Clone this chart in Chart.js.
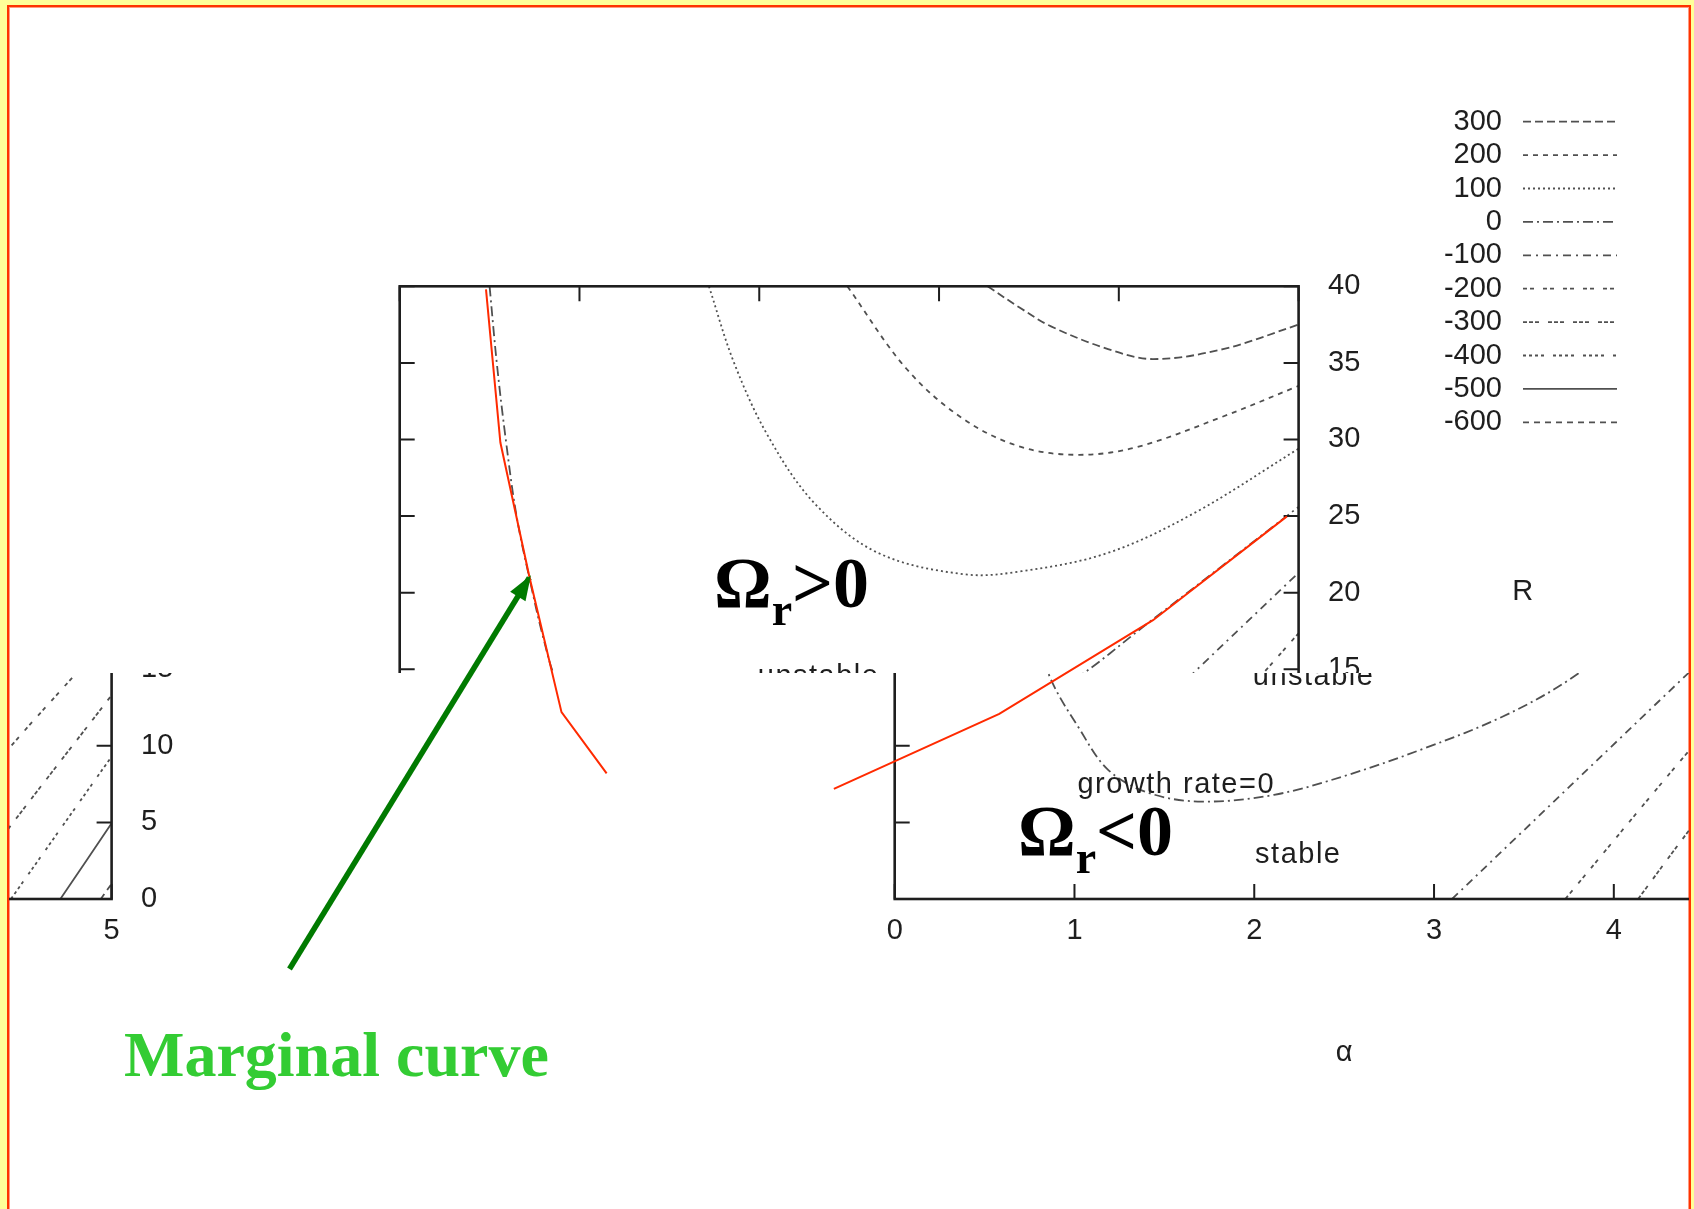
<!DOCTYPE html>
<html>
<head>
<meta charset="utf-8">
<script src="https://cdn.jsdelivr.net/npm/chart.js@4.4.0/dist/chart.umd.min.js"></script>
<style>
  html, body { margin: 0; padding: 0; }
  body { width: 1694px; height: 1209px; background: #ffff99; position: relative; overflow: hidden; }
  #slide { position: absolute; left: 7px; top: 5px; width: 1680px; height: 1230px; background: #fff;
           border: 2px solid #ff3300; box-shadow: inset 1px 1px 0 #ff9a80, inset -1px 0 0 #ff9a80; }
  .cut { position: absolute; overflow: hidden; }
  .cut canvas, #over { position: absolute; }
</style>
</head>
<body>
<div id="slide"></div>
<div class="cut" style="left:9px; top:7px; width:1680px; height:666px;">
  <canvas id="plotTop" width="1694" height="1209" style="left:-9px; top:-7px;"></canvas>
</div>
<div class="cut" style="left:9px; top:673px; width:1680px; height:536px;">
  <canvas id="plotLow" width="1694" height="1209" style="left:486px; top:-673px;"></canvas>
  <canvas id="plotWrap" width="1694" height="1209" style="left:-1196px; top:-673px;"></canvas>
</div>
<canvas id="over" width="1694" height="1209" style="left:0; top:0;"></canvas>

<script>
// axis ticks
const alphaTicks = [0, 1, 2, 3, 4, 5];
const rTicks = [0, 5, 10, 15, 20, 25, 30, 35, 40];

// contour levels of the growth rate
const levels = ['300', '200', '100', '0', '-100', '-200', '-300', '-400', '-500', '-600'];

// contour lines: alpha values and R values
const c300a = [3.27, 3.45, 3.62, 3.94, 4.19, 4.58, 5.0];
const c300r = [40, 38.6, 37.4, 35.9, 35.25, 35.9, 37.5];
const c200a = [2.49, 2.82, 3.14, 3.46, 3.78, 4.1, 4.58, 5.0];
const c200r = [40, 34.6, 31.3, 29.5, 29.0, 29.5, 31.5, 33.5];
const c100a = [1.72, 1.86, 2.05, 2.31, 2.66, 3.14, 3.46, 3.94, 4.42, 5.0];
const c100r = [40, 35, 30.2, 25.8, 22.6, 21.2, 21.4, 22.6, 25.2, 29.4];
const c0a = [0.5, 0.54, 0.59, 0.65, 0.73, 0.8, 0.87, 1.02, 1.19, 1.42, 1.71, 2.11, 2.52, 2.95, 3.38, 3.75, 4.15, 4.57, 5.0];
const c0r = [40, 35, 30, 25, 20.5, 17, 14.3, 11.25, 8.4, 6.9, 6.36, 6.8, 8.1, 9.85, 11.9, 14.3, 17.9, 21.7, 25.6];
const m100a = [3.1, 4.41, 5.0];
const m100r = [0, 14.7, 21.3];
const m200a = [3.73, 4.42, 4.8, 5.0];
const m200r = [0, 9.7, 14.7, 17.35];
const m300a = [4.135, 4.42, 5.0];
const m300r = [0, 4.5, 13.3];
const m400a = [4.44, 5.0];
const m400r = [0, 9.3];
const m500a = [4.715, 5.0];
const m500r = [0, 4.94];
const m600a = [4.94, 5.0];
const m600r = [0, 1.0];

const contourA = [c300a, c200a, c100a, c0a, m100a, m200a, m300a, m400a, m500a, m600a];
const contourR = [c300r, c200r, c100r, c0r, m100r, m200r, m300r, m400r, m500r, m600r];

// region labels inside the plot
const noteText = ['unstable', 'growth rate=0', 'stable'];
const noteA = [2.33, 1.566, 2.245];
const noteR = [13.98, 6.9, 2.37];

// hand-drawn marginal curve and pointer
const redLeftA = [0.48, 0.56, 0.722, 0.9, 1.151];
const redLeftR = [39.8, 29.8, 21.0, 12.2, 8.2];
const redRightA = [2.415, 3.335, 4.19, 4.935];
const redRightR = [7.19, 12.08, 18.2, 24.98];
const arrowA = [-0.613, 0.721];
const arrowR = [-4.57, 20.97];

const dashes = [[8, 4], [5, 5], [2, 3], [10, 4, 2, 4], [8, 5, 2, 5], [4, 3, 4, 9],
                [4, 2, 4, 2, 4, 9], [3, 3, 3, 3, 3, 3, 3, 9], [], [6, 5]];
const INK = '#1e1e1e';
const GREY = '#505050';
const FONT = '29px "Liberation Sans", Arial, sans-serif';

const W = 1694, H = 1209;
const area = { left: 399.7, top: 286.3, right: 1298.6, bottom: 899 };
const Y_AXIS_W = 120, X_AXIS_H = 80;

function pts(a, r) { return a.map((v, i) => ({ x: v, y: r[i] })); }

const gnuplotFrame = {
  id: 'gnuplotFrame',
  afterDatasetsDraw(chart) {
    const { ctx, chartArea: a, scales: { x, y } } = chart;
    ctx.save();
    ctx.strokeStyle = INK;
    ctx.lineWidth = 2;
    ctx.beginPath();
    alphaTicks.forEach(v => {
      const px = x.getPixelForValue(v);
      ctx.moveTo(px, a.bottom); ctx.lineTo(px, a.bottom - 15);
      ctx.moveTo(px, a.top); ctx.lineTo(px, a.top + 15);
    });
    rTicks.forEach(v => {
      const py = y.getPixelForValue(v);
      ctx.moveTo(a.left, py); ctx.lineTo(a.left + 15, py);
      ctx.moveTo(a.right, py); ctx.lineTo(a.right - 15, py);
    });
    ctx.stroke();
    ctx.lineWidth = 2.6;
    ctx.strokeRect(a.left, a.top, a.right - a.left, a.bottom - a.top);

    ctx.fillStyle = INK;
    ctx.font = FONT;
    ctx.textAlign = 'center';
    ctx.textBaseline = 'middle';
    ctx.fillText('α', (a.left + a.right) / 2, a.bottom + 154);
    ctx.fillText('R', a.right + 224, 592);

    // region notes
    ctx.textBaseline = 'alphabetic';
    ctx.letterSpacing = '1.5px';
    noteText.forEach((t, i) => {
      ctx.fillText(t, x.getPixelForValue(noteA[i]), y.getPixelForValue(noteR[i]));
    });
    ctx.letterSpacing = '0px';

    // key, gnuplot style: label then line sample
    ctx.textAlign = 'right';
    ctx.textBaseline = 'middle';
    levels.forEach((lv, i) => {
      const ry = 121.7 + i * 33.4;
      ctx.fillStyle = INK;
      ctx.fillText(lv, 1502, ry);
      ctx.strokeStyle = GREY;
      ctx.lineWidth = 1.8;
      ctx.setLineDash(dashes[i]);
      ctx.beginPath();
      ctx.moveTo(1523, ry); ctx.lineTo(1617, ry);
      ctx.stroke();
    });
    ctx.restore();
  }
};

function makePlot(id) {
  return new Chart(document.getElementById(id), {
    type: 'scatter',
    data: {
      datasets: levels.map((lv, i) => ({
        label: lv,
        data: pts(contourA[i], contourR[i]),
        showLine: true,
        borderColor: GREY,
        borderWidth: 1.8,
        borderDash: dashes[i],
        pointRadius: 0,
        tension: 0.35
      }))
    },
    options: {
      responsive: false,
      animation: false,
      devicePixelRatio: 1,
      layout: {
        padding: {
          left: area.left,
          top: area.top,
          right: W - area.right - Y_AXIS_W,
          bottom: H - area.bottom - X_AXIS_H
        }
      },
      scales: {
        x: {
          type: 'linear', position: 'bottom', min: 0, max: 5,
          grid: { display: false, drawTicks: false, tickLength: 0 },
          border: { display: false },
          ticks: { stepSize: 1, padding: 14.6, color: INK, font: { family: '"Liberation Sans", Arial, sans-serif', size: 29 } },
          afterFit: s => { s.height = X_AXIS_H; }
        },
        y: {
          type: 'linear', position: 'right', min: 0, max: 40,
          grid: { display: false, drawTicks: false, tickLength: 0 },
          border: { display: false },
          ticks: { stepSize: 5, padding: 29.5, color: INK, font: { family: '"Liberation Sans", Arial, sans-serif', size: 29 } },
          afterFit: s => { s.width = Y_AXIS_W; }
        }
      },
      plugins: { legend: { display: false }, tooltip: { enabled: false } }
    },
    plugins: [gnuplotFrame]
  });
}

makePlot('plotTop');
makePlot('plotLow');
makePlot('plotWrap');

// slide annotations drawn over the plot
const slideNotes = {
  id: 'slideNotes',
  afterDatasetsDraw(chart) {
    const { ctx, scales: { x, y } } = chart;
    ctx.save();
    // arrow head at the end of the pointer
    const x0 = x.getPixelForValue(arrowA[0]), y0 = y.getPixelForValue(arrowR[0]);
    const x1 = x.getPixelForValue(arrowA[1]), y1 = y.getPixelForValue(arrowR[1]);
    const ang = Math.atan2(y1 - y0, x1 - x0);
    ctx.fillStyle = '#007a00';
    ctx.beginPath();
    ctx.moveTo(x1 + 3 * Math.cos(ang), y1 + 3 * Math.sin(ang));
    ctx.lineTo(x1 - 22 * Math.cos(ang) + 9 * Math.sin(ang), y1 - 22 * Math.sin(ang) - 9 * Math.cos(ang));
    ctx.lineTo(x1 - 22 * Math.cos(ang) - 9 * Math.sin(ang), y1 - 22 * Math.sin(ang) + 9 * Math.cos(ang));
    ctx.closePath();
    ctx.fill();

    // Omega_r with subscript
    const omega = (left, base, rest) => {
      ctx.fillStyle = '#000';
      ctx.textBaseline = 'alphabetic';
      ctx.textAlign = 'left';
      ctx.font = 'bold 72px "Liberation Serif", "Times New Roman", serif';
      ctx.fillText('Ω', left, base);
      let cx = left + ctx.measureText('Ω').width;
      ctx.font = 'bold 46px "Liberation Serif", "Times New Roman", serif';
      ctx.fillText('r', cx, base + 18);
      cx += ctx.measureText('r').width;
      ctx.font = 'bold 72px "Liberation Serif", "Times New Roman", serif';
      ctx.fillText(rest, cx, base);
    };
    omega(714, 607, '>0');
    omega(1018, 855, '<0');

    ctx.fillStyle = '#33cc33';
    ctx.font = 'bold 64px "Liberation Serif", "Times New Roman", serif';
    ctx.fillText('Marginal curve', 124, 1076);
    ctx.restore();
  }
};

new Chart(document.getElementById('over'), {
  type: 'scatter',
  data: {
    datasets: [
      { data: pts(redLeftA, redLeftR), showLine: true, borderColor: '#ff2a00', borderWidth: 2, pointRadius: 0, clip: false },
      { data: pts(redRightA, redRightR), showLine: true, borderColor: '#ff2a00', borderWidth: 2, pointRadius: 0, clip: false },
      { data: pts(arrowA, arrowR), showLine: true, borderColor: '#007a00', borderWidth: 5.5, pointRadius: 0, clip: false }
    ]
  },
  options: {
    responsive: false,
    animation: false,
    devicePixelRatio: 1,
    layout: { padding: { left: area.left, top: area.top, right: W - area.right, bottom: H - area.bottom } },
    scales: {
      x: { type: 'linear', min: 0, max: 5, display: false },
      y: { type: 'linear', min: 0, max: 40, display: false }
    },
    plugins: { legend: { display: false }, tooltip: { enabled: false } }
  },
  plugins: [slideNotes]
});
</script>
</body>
</html>
